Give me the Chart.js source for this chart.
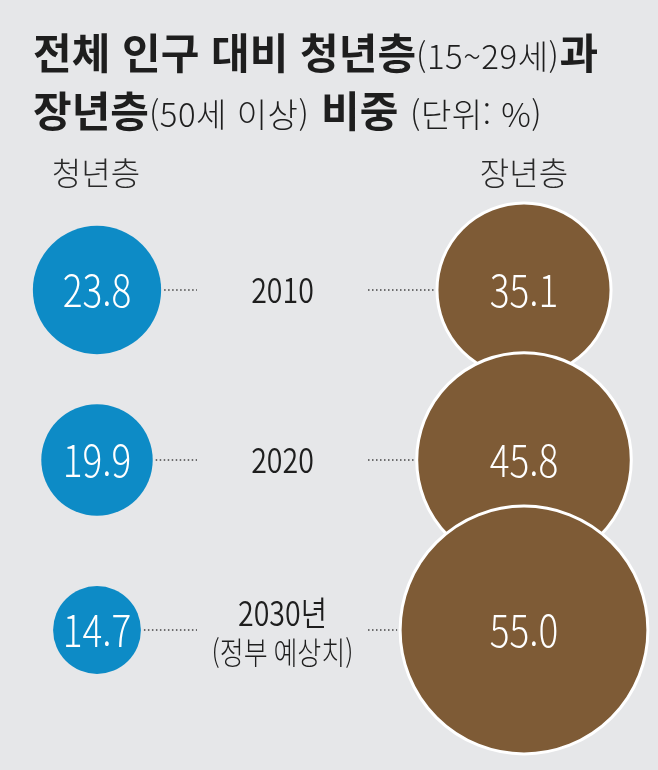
<!DOCTYPE html>
<html lang="ko">
<head>
<meta charset="utf-8">
<script src="https://cdn.jsdelivr.net/npm/chart.js@4.4.1/dist/chart.umd.min.js"></script>
<style>
html, body { margin: 0; padding: 0; background: #e6e7e9; }
#wrap { position: relative; width: 658px; height: 770px; overflow: hidden;
        font-family: "Noto Sans CJK KR", sans-serif; color: #1e1e1e; }
#chart { position: absolute; left: 0; top: 0; }
.title { position: absolute; left: 33px; white-space: nowrap; font-weight: 700;
         font-size: 42px; line-height: 1; }
.title .l { font-weight: 300; font-size: 33px; letter-spacing: 0.5px; }
.head { position: absolute; top: 155px; font-size: 32px; font-weight: 300; line-height: 1;
        color: #2a2a2a; white-space: nowrap; transform: translateX(-50%); }
</style>
</head>
<body>
<div id="wrap">
  <canvas id="chart" width="658" height="770"></canvas>
  <div class="title" style="top:30px">전체 인구 대비 청년층<span class="l">(15~29세)</span>과</div>
  <div class="title" style="top:88px">장년층<span class="l">(50세 이상)</span> 비중 <span class="l">(단위: %)</span></div>
  <div class="head" id="h0" style="left:96px"></div>
  <div class="head" id="h1" style="left:524px"></div>
</div>
<script>
// 연령층별 인구 비중 (%)
const groups = ['청년층', '장년층'];
const years = ['2010', '2020', '2030년'];
const yearNotes = ['', '', '(정부 예상치)'];
const youth = [23.8, 19.9, 14.7];
const senior = [35.1, 45.8, 55.0];

document.getElementById('h0').textContent = groups[0];
document.getElementById('h1').textContent = groups[1];

// bubble radius in px from the share value
const size = v => 5.31 * Math.pow(v, 0.786);

const toPoints = (vals, col) => vals.map((v, i) => ({ x: col, y: i, r: size(v), v: v }));

const labelPlugin = {
    id: 'rowLabels',
    afterDatasetsDraw(chart) {
        const ctx = chart.ctx;
        const left = chart.getDatasetMeta(0).data;
        const right = chart.getDatasetMeta(1).data;
        const sx = 0.84;
        const text = (str, x, y, font, color) => {
            ctx.save();
            ctx.font = font;
            ctx.fillStyle = color;
            ctx.textAlign = 'center';
            ctx.textBaseline = 'middle';
            ctx.translate(x, y);
            ctx.scale(sx, 1);
            ctx.fillText(str, 0, 0);
            ctx.restore();
        };
        years.forEach((yr, i) => {
            const a = left[i], b = right[i];
            const ra = a.options.radius, rb = b.options.radius;
            const y = a.y;
            // dotted leaders
            ctx.save();
            ctx.strokeStyle = '#444';
            ctx.lineWidth = 1.5;
            ctx.setLineDash([1.5, 2.5]);
            ctx.beginPath();
            ctx.moveTo(a.x + ra + 3, y);
            ctx.lineTo(197, y);
            ctx.moveTo(368, y);
            ctx.lineTo(b.x - rb - 3, y);
            ctx.stroke();
            ctx.restore();

            const mid = 282.5;
            if (yearNotes[i]) {
                text(yr, mid, y - 17, '350 34px "Noto Sans CJK KR"', '#1e1e1e');
                text(yearNotes[i], mid, y + 22, '300 31px "Noto Sans CJK KR"', '#1e1e1e');
            } else {
                text(yr, mid, y, '350 34px "Noto Sans CJK KR"', '#1e1e1e');
            }
            text(youth[i].toFixed(1), a.x, a.y, '300 44px "Noto Sans CJK KR"', '#fff');
            text(senior[i].toFixed(1), b.x, b.y, '300 44px "Noto Sans CJK KR"', '#fff');
        });
    }
};

const chart = new Chart(
    document.getElementById('chart'),
    {
        type: 'bubble',
        data: {
            datasets: [{
                label: groups[0],
                data: toPoints(youth, 0),
                backgroundColor: '#0d8bc6',
                borderWidth: 0,
                clip: false
            }, {
                label: groups[1],
                data: toPoints(senior, 1),
                backgroundColor: '#7e5b36',
                borderColor: '#ffffff',
                borderWidth: 3,
                clip: false
            }]
        },
        options: {
            responsive: false,
            animation: false,
            events: [],
            layout: { padding: 0, autoPadding: false },
            plugins: { legend: { display: false }, tooltip: { enabled: false } },
            scales: {
                x: { type: 'linear', display: false, min: -97 / 427, max: 561 / 427 },
                y: { type: 'linear', display: false, reverse: true, min: -290 / 170, max: 480 / 170 }
            }
        },
        plugins: [labelPlugin]
    }
);
</script>
</body>
</html>
